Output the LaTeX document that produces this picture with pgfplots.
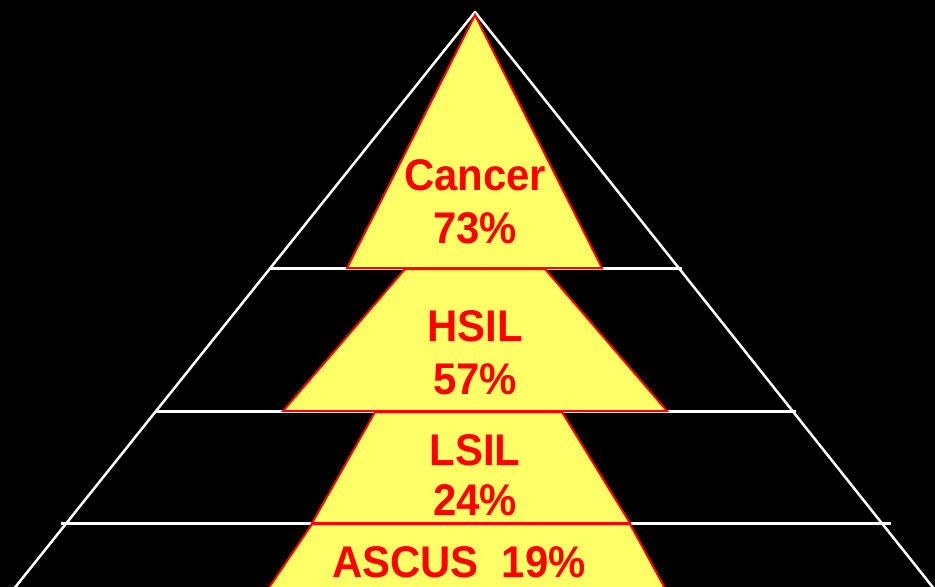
\documentclass[border=0pt]{standalone}
\usepackage{fontspec}
\setmainfont{Liberation Sans}
\usepackage{pgfplots}
\pgfplotsset{compat=1.18}
\definecolor{pyel}{HTML}{FFFF66}
\definecolor{pred}{HTML}{FF0000}
\tikzset{lbl/.style={anchor=base, text=pred, font=\bfseries\fontsize{42}{42}\selectfont, inner sep=0pt, yscale=1.06}}
\begin{document}
\begin{tikzpicture}
\begin{axis}[x=1bp,y=1bp, xmin=0,xmax=935,ymin=0,ymax=587, y dir=reverse,
  axis lines=none, ticks=none, clip=true]
% background
\addplot[fill=black, draw=none] coordinates {(-5,-5)(940,-5)(940,592)(-5,592)} -- cycle;
% white pyramid outline
\addplot[white, line width=2.5bp, line join=round] coordinates {(13,590)(475,12)(935,590)};
\addplot[white, line width=3bp] coordinates {(269,268)(682,268)};
\addplot[white, line width=3bp] coordinates {(155,411)(796,411)};
\addplot[white, line width=3bp] coordinates {(61,523)(891,523)};
% yellow levels
\addplot[fill=pyel, draw=pred, line width=2bp] coordinates {(475,15)(602,268)(347,268)} -- cycle;
\addplot[fill=pyel, draw=pred, line width=2bp] coordinates {(405,269)(545,269)(667,411)(283,411)} -- cycle;
\addplot[fill=pyel, draw=pred, line width=2bp] coordinates {(375,412)(562,412)(630,523)(312,523)} -- cycle;
\addplot[fill=pyel, draw=pred, line width=2bp] coordinates {(312,524)(630,524)(667,592)(266,592)} -- cycle;
% labels
\node[lbl] at (axis cs:475,191) {Cancer};
\node[lbl] at (axis cs:475,244) {73\%};
\node[lbl] at (axis cs:475,341) {HSIL};
\node[lbl] at (axis cs:475,394) {57\%};
\node[lbl] at (axis cs:475,465) {LSIL};
\node[lbl] at (axis cs:475,515) {24\%};
\node[lbl] at (axis cs:459,577) {ASCUS\ \ 19\%};
\end{axis}
\end{tikzpicture}
\end{document}
